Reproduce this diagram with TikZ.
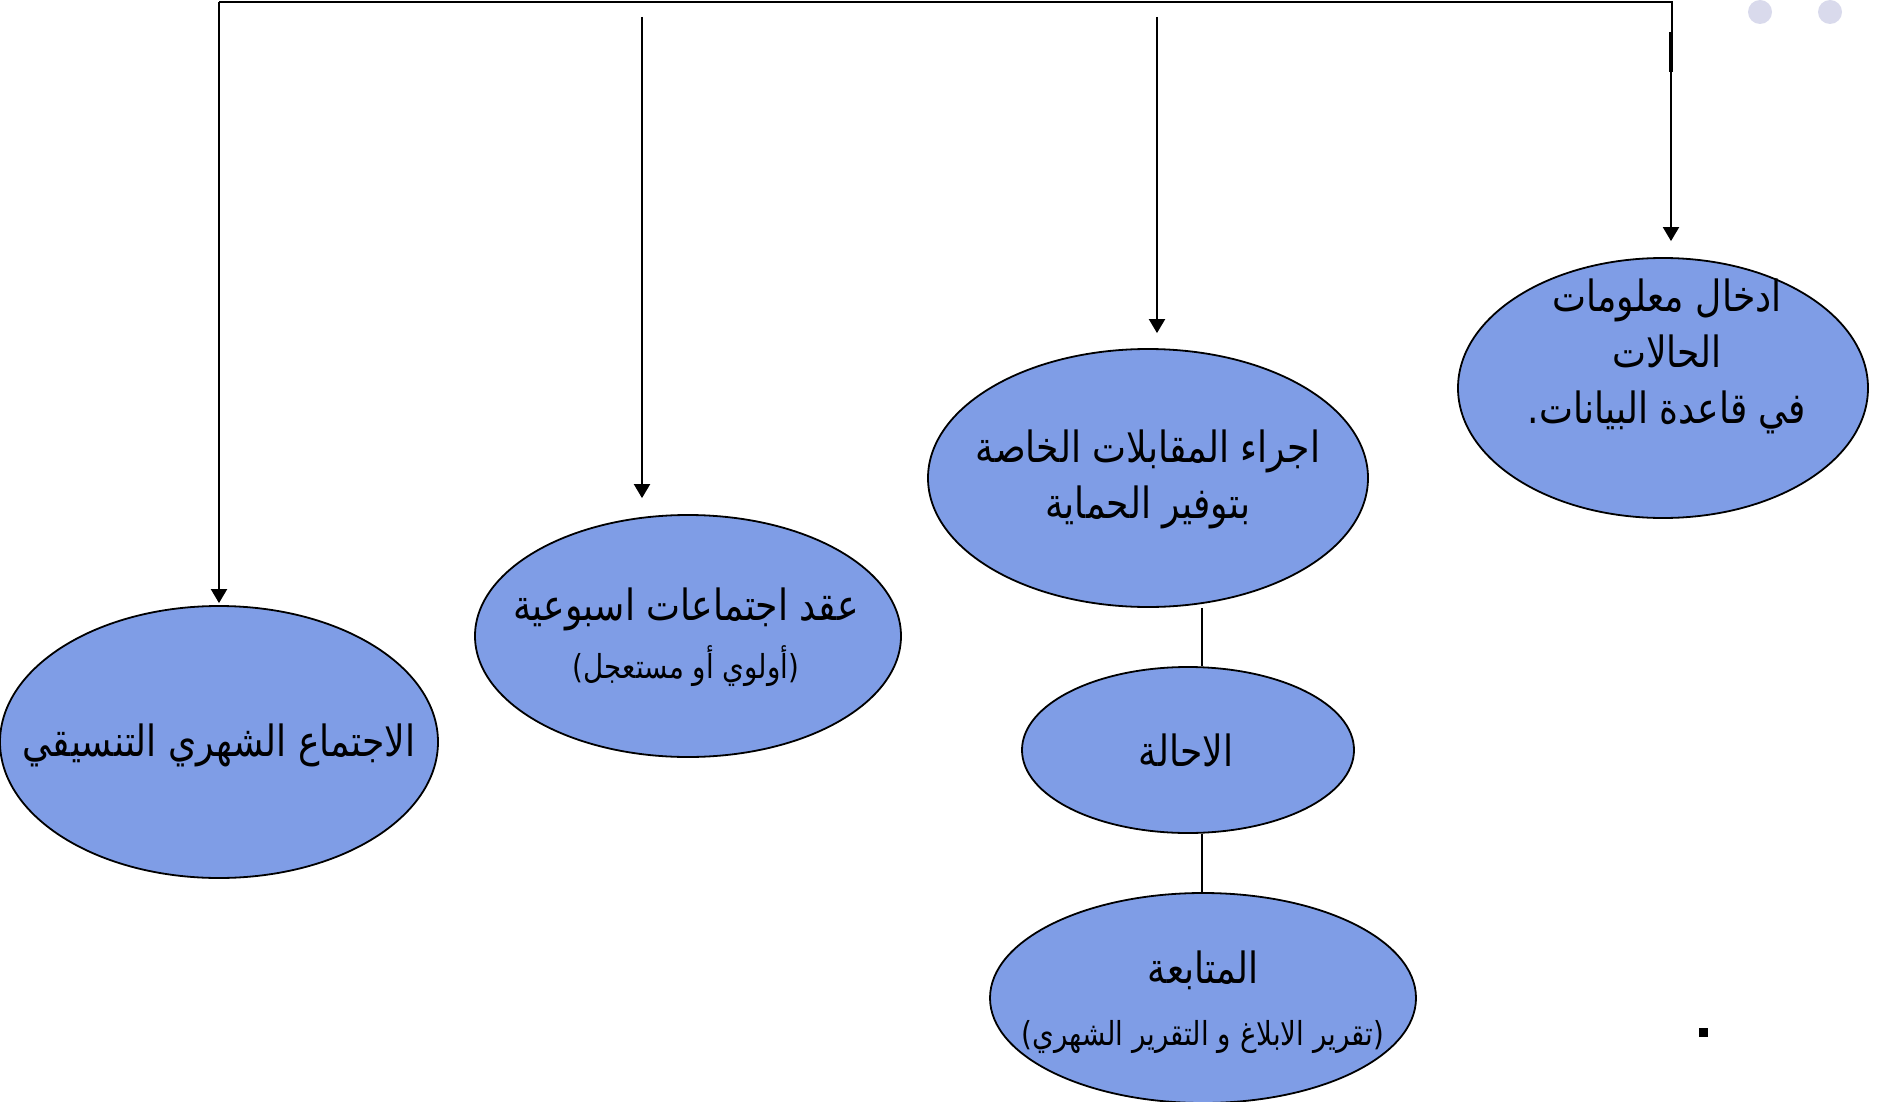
\documentclass[tikz,border=0pt]{standalone}
\usepackage{fontspec}
\usetikzlibrary{shapes.geometric,arrows.meta}
\TeXXeTstate=1
\newfontfamily\arabicfont[Script=Arabic,FakeStretch=0.84]{DejaVu Sans}
\newcommand{\rl}[1]{\beginR #1\endR}
\newcommand{\bigar}{\arabicfont\fontsize{21.5}{28}\selectfont}
\newcommand{\smallar}{\arabicfont\fontsize{16.5}{20}\selectfont}
\definecolor{blobfill}{RGB}{127,157,230}
\definecolor{dotfill}{RGB}{217,218,236}
\begin{document}
\begin{tikzpicture}%
	[x=0.5pt, y=-0.5pt,
	blob/.style={ellipse, draw, fill=blobfill, line width=0.9pt, inner sep=0pt},
	lbl/.style={font=\bigar, align=center, inner sep=0pt},
	flow/.style={line width=1pt, -{Triangle[length=7pt,width=8pt]}},
	link/.style={line width=1pt}]
%
\useasboundingbox (0,0) rectangle (1880,1102);
%
%% the ellipses
\node[blob, minimum width=205pt, minimum height=130pt] (cases) at (1663,388) {};
\node[blob, minimum width=220pt, minimum height=129pt] (interview) at (1148,478) {};
\node[blob, minimum width=213pt, minimum height=121pt] (weekly) at (688,636) {};
\node[blob, minimum width=219pt, minimum height=136pt] (monthly) at (219,742) {};
\node[blob, minimum width=166pt, minimum height=83pt] (referral) at (1188,750) {};
\node[blob, minimum width=213pt, minimum height=105pt] (followup) at (1203,998) {};
%
%% the texts
\node[lbl] (casestext) at (1667,356) {\rl{ادخال معلومات}\\ \rl{الحالات}\\ \rl{في قاعدة البيانات.}};
\node[lbl] (interviewtext) at (1148,479) {\rl{اجراء المقابلات الخاصة}\\ \rl{بتوفير الحماية}};
\node[lbl] (weeklytext) at (686,637) {\rl{عقد اجتماعات اسبوعية}\\[1pt] {\smallar\rl{(أولوي أو مستعجل)}}};
\node[lbl] (monthlytext) at (219,745) {\rl{الاجتماع الشهري التنسيقي}};
\node[lbl] (referraltext) at (1186,750) {\rl{الاحالة}};
\node[lbl] (followuptext) at (1203,1002) {\rl{المتابعة}\\[3pt] {\smallar\rl{(تقرير الابلاغ و التقرير الشهري)}}};
%
%% the top bar
\coordinate (barL) at (219,2);
\coordinate (barR) at (1672,2);
\coordinate (kinkT) at (1672,32);
\coordinate (kinkB) at (1671,72);
\coordinate (weeklyIn) at (642,17);
\coordinate (interviewIn) at (1157,17);
\draw[link] (barL) -- (barR) -- (kinkT |- kinkB);
\draw[line width=2pt] (kinkB |- kinkT) -- (kinkB);
%
%% the arrows
\draw[flow, shorten >=1pt] (barL) -- (barL |- monthly.north);
\draw[flow, shorten >=8pt] (weeklyIn) -- (weeklyIn |- weekly.north);
\draw[flow, shorten >=7.5pt] (interviewIn) -- (interviewIn |- interview.north);
\draw[flow, shorten >=8pt] (kinkB) -- (kinkB |- cases.north);
%
%% the links below
\draw[link] (interview.south -| 1202,0) -- (referral.north -| 1202,0);
\draw[link] (referral.south -| 1202,0) -- (followup.north -| 1202,0);
%
%% dots and mark
\fill[dotfill] (1760,12) circle (6pt);
\fill[dotfill] (1830,12) circle (6pt);
\fill (1699,1028) rectangle (1708,1037);
\end{tikzpicture}
\end{document}
